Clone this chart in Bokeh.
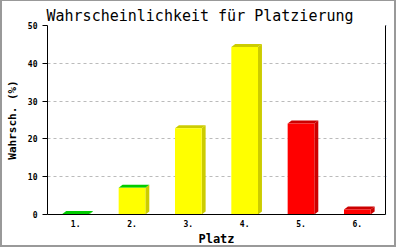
from bokeh.plotting import figure
from bokeh.models import Range1d, LinearAxis, FixedTicker
from bokeh.embed import file_html
from bokeh.resources import INLINE

places = [1, 2, 3, 4, 5, 6]
tick_labels = ["1.", "2.", "3.", "4.", "5.", "6."]
probabilities = [0.1, 7.1, 22.8, 44.3, 24.1, 1.3]
y_ticks = [0, 10, 20, 30, 40, 50]
front_colors = ["#00cc00", "#ffff00", "#ffff00", "#ffff00", "#ff0000", "#ff0000"]
top_colors = ["#00cc00", "#00cc00", "#cccc00", "#cccc00", "#cc0000", "#cc0000"]
side_colors = ["#00cc00", "#cccc00", "#cccc00", "#cccc00", "#cc0000", "#cc0000"]

X0, X1, Y0, Y1 = 0.5, 6.5, 0, 50
FRAME_W, FRAME_H = 342, 189
BAR_W = 27 / (FRAME_W / (X1 - X0))
DX = 4 / (FRAME_W / (X1 - X0))
DY = 3 / (FRAME_H / (Y1 - Y0))

p = figure(width=396, height=247, x_range=Range1d(X0, X1), y_range=Range1d(Y0, Y1),
           output_backend="svg", toolbar_location=None,
           min_border_left=41, min_border_right=13, min_border_top=24, min_border_bottom=34,
           title="Wahrscheinlichkeit für Platzierung")
p.styles = {"border-left": "2px solid #999999", "border-right": "2px solid #999999",
            "border-bottom": "2px solid #999999", "border-top": "1px solid #999999"}
p.outline_line_color = None
p.background_fill_color = "white"
p.border_fill_color = "white"

p.title.text_font = "DejaVu Sans Mono"
p.title.text_font_style = "normal"
p.title.text_font_size = "15px"
p.title.align = "left"
p.title.offset = -1
p.title.standoff = 1
p.title.text_color = "black"

# 3D bars
side_xs, side_ys, top_xs, top_ys = [], [], [], []
for x, v in zip(places, probabilities):
    l, r = x - BAR_W / 2, x + BAR_W / 2
    side_xs.append([r, r + DX, r + DX, r])
    side_ys.append([0, DY, v + DY, v])
    top_xs.append([l, l + DX, r + DX, r])
    top_ys.append([v, v + DY, v + DY, v])
p.patches(side_xs, side_ys, fill_color=side_colors, line_color=None)
p.patches(top_xs, top_ys, fill_color=top_colors, line_color=None)
p.vbar(x=places, top=probabilities, bottom=0, width=BAR_W, fill_color=front_colors, line_color=None)

right_axis = LinearAxis(ticker=FixedTicker(ticks=[]), major_tick_out=0, major_tick_in=0,
                        minor_tick_out=0, minor_tick_in=0, axis_line_color="black",
                        major_label_text_font_size="1px", major_label_standoff=0)
p.add_layout(right_axis, "right")

p.xgrid.visible = False
p.ygrid.grid_line_color = "#bbbbbb"
p.ygrid.grid_line_dash = "3 3"

p.xaxis.ticker = places
p.xaxis.major_label_overrides = {k: t for k, t in zip(places, tick_labels)}
p.yaxis.ticker = y_ticks
for ax in (p.below[0], p.left[0]):
    ax.axis_line_color = "black"
    ax.minor_tick_line_color = None
    ax.minor_tick_out = 0
    ax.minor_tick_in = 0
    ax.major_label_text_font = "DejaVu Sans Mono"
    ax.major_label_text_font_size = "8px"
    ax.major_label_text_font_style = "bold"
    ax.major_label_text_color = "black"
    ax.axis_label_text_font = "DejaVu Sans Mono"
    ax.axis_label_text_font_style = "bold"
    ax.axis_label_text_color = "black"
xa, ya = p.below[0], p.left[0]
xa.major_tick_line_color = None
xa.major_tick_out = 0
xa.major_tick_in = 0
xa.major_label_standoff = 5
xa.axis_label = "Platz"
xa.axis_label_text_font_size = "12px"
xa.axis_label_standoff = 2
ya.major_tick_out = 5
ya.major_tick_in = 0
ya.major_label_standoff = 5
ya.axis_label = "Wahrsch. (%)"
ya.axis_label_text_font_size = "11px"
ya.axis_label_standoff = 6

open("out.html", "w").write(file_html(p, INLINE))
